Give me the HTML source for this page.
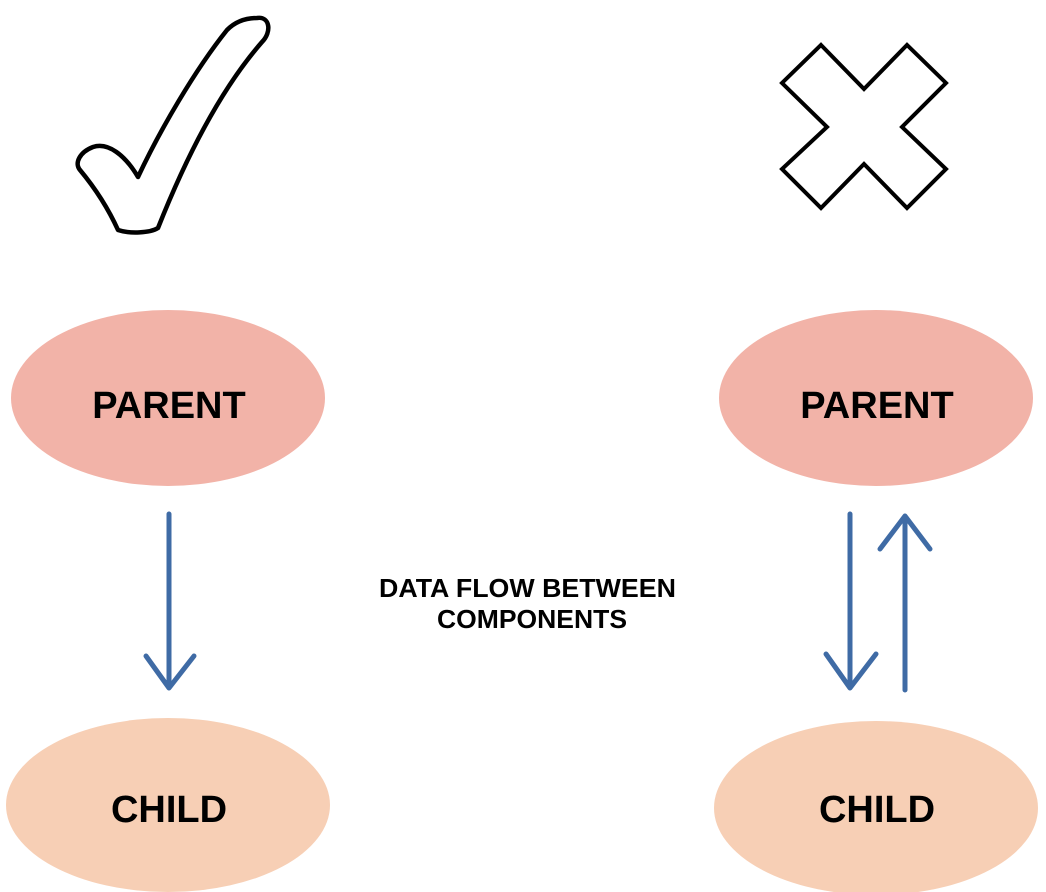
<!DOCTYPE html>
<html><head><style>
html,body{margin:0;padding:0;background:#fff;}
svg{display:block;}
text{font-family:"Liberation Sans",Arial,sans-serif;font-weight:bold;fill:#000;}
</style></head><body>
<svg width="1046" height="892" viewBox="0 0 1046 892" xmlns="http://www.w3.org/2000/svg">
<path d="M118,230 C130,234 150,233 158,228 C185,160 220,90 262,42 C272,32 270,16 257,18 C245,18 235,22 227,30 C195,70 160,130 138,177 C125,155 108,142 93,147 C80,152 74,163 80,170 C95,188 108,208 118,230 Z" fill="#fff" stroke="#000" stroke-width="4.5" stroke-linejoin="round"/>
<polygon points="821,45 864,89 907,45 946,83 902,127 946,169 907,208 864,164 821,208 782,169 827,127 782,83" fill="#fff" stroke="#000" stroke-width="4"/>
<ellipse cx="168" cy="398" rx="157" ry="88" fill="#F2B3A8"/>
<ellipse cx="876" cy="398" rx="157" ry="88" fill="#F2B3A8"/>
<ellipse cx="168" cy="805" rx="162" ry="87" fill="#F7CFB5"/>
<ellipse cx="876" cy="808" rx="162" ry="87" fill="#F7CFB5"/>
<text x="169" y="418" font-size="38" text-anchor="middle">PARENT</text>
<text x="877" y="418" font-size="38" text-anchor="middle">PARENT</text>
<text x="169" y="822" font-size="38" text-anchor="middle">CHILD</text>
<text x="877" y="822" font-size="38" text-anchor="middle">CHILD</text>
<text x="379" y="597" font-size="26" textLength="297" lengthAdjust="spacingAndGlyphs">DATA FLOW BETWEEN</text>
<text x="437" y="628" font-size="26" textLength="190" lengthAdjust="spacingAndGlyphs">COMPONENTS</text>
<g stroke="#3F6BA5" stroke-width="5" stroke-linecap="round" stroke-linejoin="round" fill="none">
<path d="M169,514 V688 M146,656 L169,688 L194,656"/>
<path d="M850,514 V688 M826,654 L850,688 L876,654"/>
<path d="M905,690 V516 M880,549 L905,516 L930,549"/>
</g>
</svg>
</body></html>
